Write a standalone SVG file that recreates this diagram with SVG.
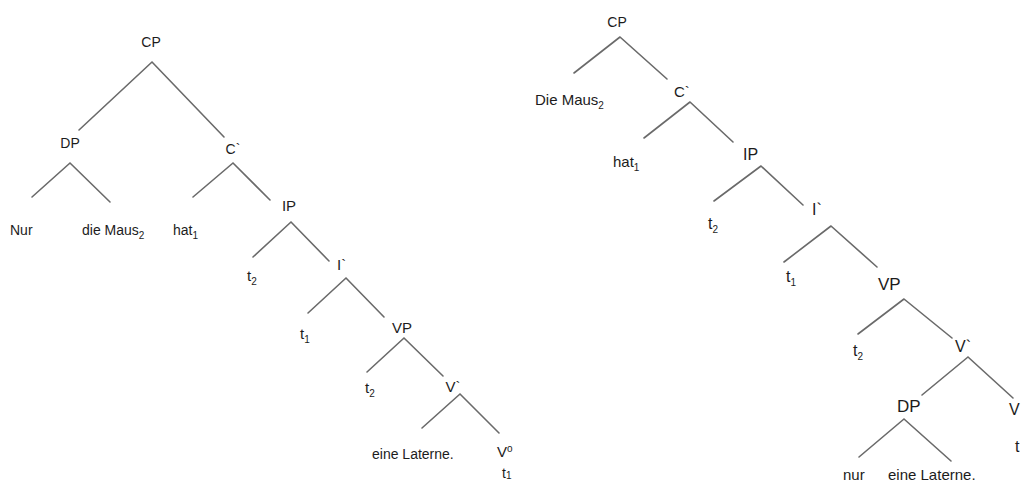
<svg xmlns="http://www.w3.org/2000/svg" width="1022" height="483" viewBox="0 0 1022 483">
  <style>
    .lbl { font-family: "Liberation Sans", Arial, sans-serif; fill: #1c1c1c; }
    .l14 { font-size: 14px; }
    .l15 { font-size: 15px; }
    .l16 { font-size: 16px; }
    .l17 { font-size: 17px; }
    .sub { font-size: 10px; }
    .mid { text-anchor: middle; }
    .edge { stroke: #6a6a6a; stroke-width: 1.6; fill: none; stroke-linecap: round; }
  </style>
  <rect width="1022" height="483" fill="#ffffff"/>

  <!-- branches -->
  <g id="connectors">
    <!-- left tree -->
    <path class="edge" d="M152,62 L79,130 M152,62 L224,137"/>
    <path class="edge" d="M70,163 L32,197 M70,163 L110,202"/>
    <path class="edge" d="M233,163 L193,197 M233,163 L270,200"/>
    <path class="edge" d="M291,222 L253,257 M291,222 L329,261"/>
    <path class="edge" d="M346,278 L308,313 M346,278 L384,317"/>
    <path class="edge" d="M404,338 L367,372 M404,338 L443,376"/>
    <path class="edge" d="M460,394 L422,428 M460,394 L499,433"/>
    <!-- right tree -->
    <path class="edge" d="M620,37 L574,73 M620,37 L667,79"/>
    <path class="edge" d="M690,102 L644,138 M690,102 L733,142"/>
    <path class="edge" d="M761,166 L714,201 M761,166 L803,205"/>
    <path class="edge" d="M831,226 L784,262 M831,226 L877,267"/>
    <path class="edge" d="M904,299 L858,334 M904,299 L952,338"/>
    <path class="edge" d="M968,357 L922,395 M968,357 L1013,398"/>
    <path class="edge" d="M904,419 L859,457 M904,419 L951,461"/>
  </g>

  <!-- left tree nodes -->
  <g id="l-cp"><text class="lbl l14 mid" x="151" y="47">CP</text></g>
  <g id="l-dp"><text class="lbl l14 mid" x="70" y="148">DP</text></g>
  <g id="l-cbar"><text class="lbl l14 mid" x="233" y="154">C`</text></g>
  <g id="l-nur"><text class="lbl l14" x="10" y="235">Nur</text></g>
  <g id="l-diemaus"><text class="lbl l14" x="82" y="235">die Maus<tspan class="sub" dy="4">2</tspan></text></g>
  <g id="l-hat"><text class="lbl l14" x="173" y="235">hat<tspan class="sub" dy="4">1</tspan></text></g>
  <g id="l-ip"><text class="lbl l15 mid" x="289" y="211">IP</text></g>
  <g id="l-t2a"><text class="lbl l15" x="247" y="281">t<tspan class="sub" dy="4">2</tspan></text></g>
  <g id="l-ibar"><text class="lbl l15" x="337" y="270">I`</text></g>
  <g id="l-t1a"><text class="lbl l15" x="300" y="339">t<tspan class="sub" dy="4">1</tspan></text></g>
  <g id="l-vp"><text class="lbl l15 mid" x="402" y="333">VP</text></g>
  <g id="l-t2b"><text class="lbl l15" x="365" y="393">t<tspan class="sub" dy="4">2</tspan></text></g>
  <g id="l-vbar"><text class="lbl l15 mid" x="453" y="392">V`</text></g>
  <g id="l-laterne"><text class="lbl l14" x="372" y="459">eine Laterne.</text></g>
  <g id="l-v0"><text class="lbl l15" x="497" y="457">V<tspan class="sub" dy="-5">o</tspan></text></g>
  <g id="l-t1b"><text class="lbl l14" x="502" y="478">t<tspan class="sub" dy="1">1</tspan></text></g>

  <!-- right tree nodes -->
  <g id="r-cp"><text class="lbl l14 mid" x="617" y="27">CP</text></g>
  <g id="r-diemaus"><text class="lbl l15" x="535" y="105">Die Maus<tspan class="sub" dy="4">2</tspan></text></g>
  <g id="r-cbar"><text class="lbl l15" x="674" y="97">C`</text></g>
  <g id="r-hat"><text class="lbl l15" x="613" y="167">hat<tspan class="sub" dy="4">1</tspan></text></g>
  <g id="r-ip"><text class="lbl l16" x="743" y="160">IP</text></g>
  <g id="r-t2a"><text class="lbl l16" x="708" y="229">t<tspan class="sub" dy="4">2</tspan></text></g>
  <g id="r-ibar"><text class="lbl l16" x="812" y="215">I`</text></g>
  <g id="r-t1"><text class="lbl l16" x="786" y="282">t<tspan class="sub" dy="4">1</tspan></text></g>
  <g id="r-vp"><text class="lbl l17" x="878" y="290">VP</text></g>
  <g id="r-t2b"><text class="lbl l16" x="853" y="356">t<tspan class="sub" dy="4">2</tspan></text></g>
  <g id="r-vbar"><text class="lbl l16" x="955" y="352">V`</text></g>
  <g id="r-dp"><text class="lbl l17" x="897" y="412">DP</text></g>
  <g id="r-v0"><text class="lbl l16" x="1009" y="415">V</text></g>
  <g id="r-t"><text class="lbl l16" x="1015" y="452">t</text></g>
  <g id="r-nur"><text class="lbl l15" x="843" y="480">nur</text></g>
  <g id="r-laterne"><text class="lbl l15" x="888" y="480">eine Laterne.</text></g>
</svg>
